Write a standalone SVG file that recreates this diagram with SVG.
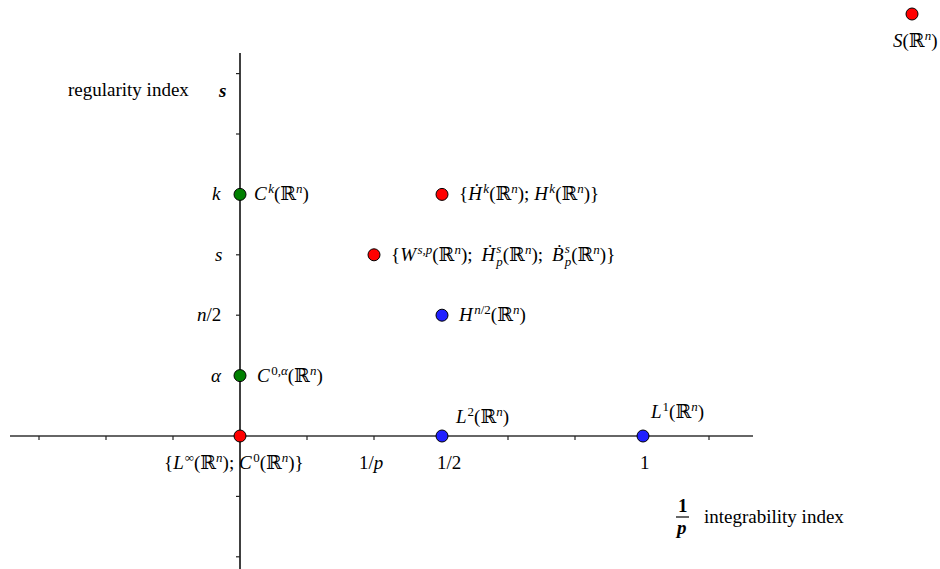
<svg xmlns="http://www.w3.org/2000/svg" width="940" height="569" viewBox="0 0 940 569">
<style>
text{font-family:"Liberation Serif","Times New Roman","DejaVu Serif",serif;font-size:19px;fill:#000}
.i{font-style:italic}
.b{font-weight:bold}
.s{font-size:13px}
.ax{stroke:#000;stroke-width:1.5;fill:none}
.xa{stroke:#333;stroke-width:1.5;fill:none}
.tk{stroke:#222;stroke-width:1.2}
.pt{stroke:#000;stroke-width:1}
.red{fill:#ff0000}
.grn{fill:#008000}
.blu{fill:#2020ff}
</style>
<rect width="940" height="569" fill="#fff"/>
<g id="axes">
  <line class="xa" x1="10" y1="436" x2="753" y2="436"/>
  <line class="ax" x1="240" y1="53" x2="240" y2="569"/>
  <g class="tk">
    <line x1="39" y1="436" x2="39" y2="440"/>
    <line x1="106" y1="436" x2="106" y2="440"/>
    <line x1="173" y1="436" x2="173" y2="440"/>
    <line x1="307" y1="436" x2="307" y2="440"/>
    <line x1="374" y1="436" x2="374" y2="440"/>
    <line x1="441" y1="436" x2="441" y2="440"/>
    <line x1="508" y1="436" x2="508" y2="440"/>
    <line x1="575" y1="436" x2="575" y2="440"/>
    <line x1="642" y1="436" x2="642" y2="440"/>
    <line x1="709" y1="436" x2="709" y2="440"/>
    <line x1="236" y1="73.6" x2="240" y2="73.6"/>
    <line x1="236" y1="134" x2="240" y2="134"/>
    <line x1="236" y1="194.4" x2="240" y2="194.4"/>
    <line x1="236" y1="254.8" x2="240" y2="254.8"/>
    <line x1="236" y1="315.2" x2="240" y2="315.2"/>
    <line x1="236" y1="375.6" x2="240" y2="375.6"/>
    <line x1="236" y1="496.4" x2="240" y2="496.4"/>
    <line x1="236" y1="556.8" x2="240" y2="556.8"/>
  </g>
  <text x="68" y="96">regularity index</text>
  <text class="i b" x="219" y="97">s</text>
  <text class="i" x="212" y="200">k</text>
  <text class="i" x="215" y="261">s</text>
  <text x="197" y="321"><tspan class="i">n</tspan>/2</text>
  <text class="i" x="211" y="382">α</text>
  <text x="359" y="469">1/<tspan class="i">p</tspan></text>
  <text x="437" y="469">1/2</text>
  <text x="640" y="469">1</text>
  <text class="b" x="678" y="512">1</text>
  <line x1="676" y1="517" x2="689" y2="517" stroke="#000" stroke-width="1.2"/>
  <text class="b i" x="677" y="534">p</text>
  <text x="704" y="523">integrability index</text>
</g>
<g id="connectors"></g>
<g id="node-Ck">
  <circle class="pt grn" cx="240" cy="194.4" r="6"/>
  <text x="254" y="200"><tspan class="i">C</tspan><tspan class="s i" dx="1.5" dy="-7">k</tspan><tspan dy="7">(ℝ</tspan><tspan class="s i" dy="-7">n</tspan><tspan dy="7">)</tspan></text>
</g>
<g id="node-C0alpha">
  <circle class="pt grn" cx="240" cy="375.6" r="6"/>
  <text x="257" y="382"><tspan class="i">C</tspan><tspan class="s" dx="1.5" dy="-7">0,</tspan><tspan class="s i">α</tspan><tspan dy="7">(ℝ</tspan><tspan class="s i" dy="-7">n</tspan><tspan dy="7">)</tspan></text>
</g>
<g id="node-Linf">
  <circle class="pt red" cx="240" cy="436" r="6"/>
  <text x="164" y="469">{<tspan class="i">L</tspan><tspan class="s" dx="1" dy="-7">∞</tspan><tspan dy="7">(ℝ</tspan><tspan class="s i" dy="-7">n</tspan><tspan dy="7">); </tspan><tspan class="i">C</tspan><tspan class="s" dx="1.5" dy="-7">0</tspan><tspan dy="7">(ℝ</tspan><tspan class="s i" dy="-7">n</tspan><tspan dy="7">)}</tspan></text>
</g>
<g id="node-L2">
  <circle class="pt blu" cx="442" cy="436" r="6"/>
  <text x="456" y="423"><tspan class="i">L</tspan><tspan class="s" dx="1" dy="-7">2</tspan><tspan dy="7">(ℝ</tspan><tspan class="s i" dy="-7">n</tspan><tspan dy="7">)</tspan></text>
</g>
<g id="node-L1">
  <circle class="pt blu" cx="643" cy="436" r="6"/>
  <text x="651" y="418"><tspan class="i">L</tspan><tspan class="s" dx="1" dy="-7">1</tspan><tspan dy="7">(ℝ</tspan><tspan class="s i" dy="-7">n</tspan><tspan dy="7">)</tspan></text>
</g>
<g id="node-Hk">
  <circle class="pt red" cx="442" cy="194.4" r="6"/>
  <text x="459" y="200">{<tspan class="i">Ḣ</tspan><tspan class="s i" dx="1.5" dy="-7">k</tspan><tspan dy="7">(ℝ</tspan><tspan class="s i" dy="-7">n</tspan><tspan dy="7">); </tspan><tspan class="i">H</tspan><tspan class="s i" dx="1.5" dy="-7">k</tspan><tspan dy="7">(ℝ</tspan><tspan class="s i" dy="-7">n</tspan><tspan dy="7">)}</tspan></text>
</g>
<g id="node-Wsp">
  <circle class="pt red" cx="374" cy="254.8" r="6"/>
  <text x="391" y="261">{<tspan class="i">W</tspan><tspan class="s i" dx="1.5" dy="-7">s,p</tspan><tspan dy="7">(ℝ</tspan><tspan class="s i" dy="-7">n</tspan><tspan dy="7">);</tspan><tspan class="i" dx="9">Ḣ</tspan><tspan class="s i" dx="1" dy="-8">s</tspan><tspan class="s i" dx="-5" dy="13">p</tspan><tspan dy="-5">(ℝ</tspan><tspan class="s i" dy="-7">n</tspan><tspan dy="7">);</tspan><tspan class="i" dx="9">Ḃ</tspan><tspan class="s i" dx="1" dy="-8">s</tspan><tspan class="s i" dx="-5" dy="13">p</tspan><tspan dy="-5">(ℝ</tspan><tspan class="s i" dy="-7">n</tspan><tspan dy="7">)}</tspan></text>
</g>
<g id="node-Hn2">
  <circle class="pt blu" cx="442" cy="315.2" r="6"/>
  <text x="459" y="321"><tspan class="i">H</tspan><tspan class="s" dx="1.5" dy="-7"><tspan class="i">n</tspan>/2</tspan><tspan dy="7">(ℝ</tspan><tspan class="s i" dy="-7">n</tspan><tspan dy="7">)</tspan></text>
</g>
<g id="node-S">
  <circle class="pt red" cx="912" cy="14" r="6"/>
  <text x="893" y="47"><tspan class="i">S</tspan>(ℝ<tspan class="s i" dy="-7">n</tspan><tspan dy="7">)</tspan></text>
</g>
</svg>
